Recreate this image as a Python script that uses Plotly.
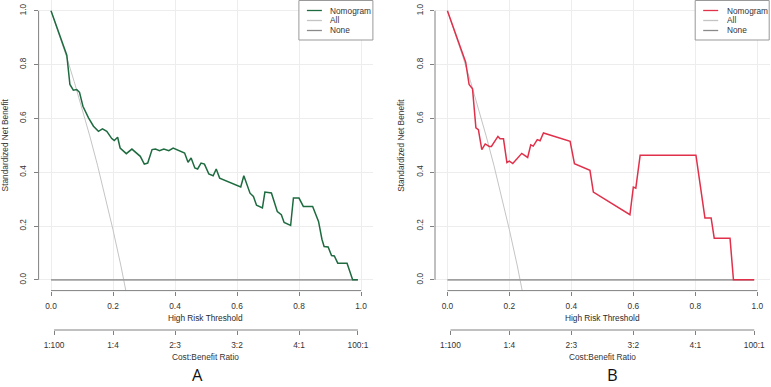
import plotly.graph_objects as go

# ---------------- data ----------------
thr_a = [0.0, 0.051, 0.061, 0.072, 0.083, 0.092, 0.103, 0.121, 0.137, 0.153, 0.166, 0.180, 0.196, 0.204,
         0.215, 0.223, 0.243, 0.261, 0.288, 0.301, 0.312, 0.326, 0.337, 0.350, 0.364, 0.380, 0.394, 0.407,
         0.431, 0.442, 0.452, 0.464, 0.473, 0.484, 0.495, 0.509, 0.523, 0.533, 0.544, 0.612, 0.622, 0.642,
         0.653, 0.663, 0.682, 0.690, 0.711, 0.730, 0.743, 0.752, 0.773, 0.782, 0.800, 0.814, 0.844, 0.863,
         0.874, 0.881, 0.894, 0.905, 0.914, 0.925, 0.955, 0.973, 0.990]
nb_a = [1.0, 0.835, 0.726, 0.705, 0.707, 0.697, 0.645, 0.602, 0.571, 0.552, 0.561, 0.552, 0.525, 0.518,
        0.530, 0.490, 0.469, 0.486, 0.459, 0.430, 0.434, 0.484, 0.486, 0.480, 0.486, 0.480, 0.490, 0.484,
        0.471, 0.437, 0.453, 0.416, 0.412, 0.434, 0.430, 0.394, 0.387, 0.412, 0.378, 0.345, 0.387, 0.322,
        0.310, 0.277, 0.267, 0.326, 0.323, 0.254, 0.242, 0.213, 0.202, 0.304, 0.304, 0.273, 0.273, 0.217,
        0.151, 0.124, 0.122, 0.090, 0.089, 0.062, 0.062, 0.0, 0.0]

thr_b = [0.0, 0.041, 0.059, 0.070, 0.081, 0.092, 0.100, 0.111, 0.122, 0.135, 0.142, 0.163, 0.170, 0.181,
         0.192, 0.200, 0.211, 0.240, 0.259, 0.269, 0.277, 0.290, 0.299, 0.310, 0.396, 0.410, 0.460, 0.471,
         0.589, 0.600, 0.608, 0.622, 0.802, 0.831, 0.851, 0.861, 0.912, 0.923, 0.990]
nb_b = [1.0, 0.862, 0.809, 0.726, 0.710, 0.565, 0.558, 0.484, 0.505, 0.496, 0.496, 0.533, 0.524, 0.524,
        0.436, 0.441, 0.432, 0.470, 0.455, 0.502, 0.497, 0.521, 0.517, 0.546, 0.515, 0.432, 0.407, 0.326,
        0.242, 0.345, 0.341, 0.463, 0.463, 0.230, 0.230, 0.155, 0.155, 0.0, 0.0]

all_thr = [0.0, 0.025, 0.05, 0.075, 0.10, 0.125, 0.15, 0.175, 0.20, 0.225, 0.25, 0.275]
all_nb_a = [1.0, 0.917, 0.829, 0.736, 0.638, 0.535, 0.426, 0.310, 0.186, 0.055, -0.085, -0.235]
all_nb_b = [1.0, 0.917, 0.829, 0.736, 0.638, 0.535, 0.426, 0.310, 0.186, 0.055, -0.085, -0.235]

none_thr = [0.0, 0.99]
none_nb = [0.0, 0.0]

x_ticks = [0.0, 0.2, 0.4, 0.6, 0.8, 1.0]
x_labels = ["0.0", "0.2", "0.4", "0.6", "0.8", "1.0"]
y_ticks = [0.0, 0.2, 0.4, 0.6, 0.8, 1.0]
y_labels = ["0.0", "0.2", "0.4", "0.6", "0.8", "1.0"]
cb_ticks = [1 / 101, 0.2, 0.4, 0.6, 0.8, 100 / 101]
cb_labels = ["1:100", "1:4", "2:3", "3:2", "4:1", "100:1"]

legend_names = ["Nomogram", "All", "None"]
panel_labels = ["A", "B"]

# ---------------- style ----------------
W, H = 771, 387
GREEN = "#1E6B40"
RED = "#E0304A"
ALL_COL = "#C4C4C4"
NONE_COL = "#A0A0A0"
AXIS_COL = "#808080"
TEXT_COL = "#333333"
GRID_COL = "#EDEDED"
FONT = "Liberation Sans, Arial, sans-serif"
FS = 8.3

def px_x(p):
    return p / W

def px_y(p):
    return 1 - p / H

dom_a = [px_x(38.6), px_x(373.4)]
dom_b = [px_x(435.0), px_x(769.7)]
ydom = [px_y(290.6), 1.0]
cb_pos = px_y(330)
panel_label_x = [197.5, 612.0]

fig = go.Figure()

def add_panel(idx, thr, nb, all_nb, color):
    xa = "x" if idx == 0 else "x2"
    ya = "y" if idx == 0 else "y2"
    fig.add_trace(go.Scatter(x=all_thr, y=all_nb, mode="lines", line=dict(color=ALL_COL, width=1),
                             xaxis=xa, yaxis=ya, showlegend=False, hoverinfo="skip"))
    fig.add_trace(go.Scatter(x=none_thr, y=none_nb, mode="lines", line=dict(color=NONE_COL, width=1.8),
                             xaxis=xa, yaxis=ya, showlegend=False, hoverinfo="skip"))
    fig.add_trace(go.Scatter(x=thr, y=nb, mode="lines", line=dict(color=color, width=1.5),
                             xaxis=xa, yaxis=ya, showlegend=False, name="Nomogram"))

add_panel(0, thr_a, nb_a, all_nb_a, GREEN)
add_panel(1, thr_b, nb_b, all_nb_b, RED)

# invisible traces to carry the cost:benefit axes
fig.add_trace(go.Scatter(x=cb_ticks, y=[None] * len(cb_ticks), xaxis="x3", yaxis="y",
                         showlegend=False, hoverinfo="skip", mode="lines", line=dict(color="rgba(0,0,0,0)")))
fig.add_trace(go.Scatter(x=cb_ticks, y=[None] * len(cb_ticks), xaxis="x4", yaxis="y2",
                         showlegend=False, hoverinfo="skip", mode="lines", line=dict(color="rgba(0,0,0,0)")))

xcommon = dict(range=[-0.04, 1.04], showline=False, zeroline=False, showgrid=True, gridcolor=GRID_COL,
               gridwidth=1, ticks="outside", ticklen=4, tickcolor=AXIS_COL, tickwidth=1,
               tickvals=x_ticks, ticktext=x_labels, tickfont=dict(family=FONT, size=FS, color=TEXT_COL),
               fixedrange=True, ticklabelstandoff=3)
ycommon = dict(range=[-0.04, 1.04], showline=False, zeroline=False, showgrid=True, gridcolor=GRID_COL,
               gridwidth=1, ticks="outside", ticklen=4, tickcolor=AXIS_COL, tickwidth=1,
               tickvals=y_ticks, ticktext=y_labels, tickangle=-90,
               tickfont=dict(family=FONT, size=FS, color=TEXT_COL), fixedrange=True, ticklabelstandoff=4)
cbcommon = dict(range=[-0.04, 1.04], showline=False, zeroline=False, showgrid=False,
                ticks="outside", ticklen=4, tickcolor=AXIS_COL, tickwidth=1, tickvals=cb_ticks,
                ticktext=cb_labels, tickfont=dict(family=FONT, size=FS, color=TEXT_COL),
                anchor="free", position=cb_pos, side="bottom", fixedrange=True, ticklabelstandoff=3)

fig.update_layout(
    width=W, height=H, margin=dict(l=0, r=0, t=0, b=0),
    paper_bgcolor="white", plot_bgcolor="white", showlegend=False,
    xaxis=dict(domain=dom_a, anchor="y", **xcommon),
    yaxis=dict(domain=ydom, anchor="x", **ycommon),
    xaxis2=dict(domain=dom_b, anchor="y2", **xcommon),
    yaxis2=dict(domain=ydom, anchor="x2", **ycommon),
    xaxis3=dict(domain=dom_a, overlaying="x", **cbcommon),
    xaxis4=dict(domain=dom_b, overlaying="x2", **cbcommon),
)

shapes = []
annots = []
panels = [("x", "y", dom_a, GREEN, 0), ("x2", "y2", dom_b, RED, 1)]
for xa, ya, dom, col, i in panels:
    # centre of the 0..1 threshold span in pixels
    x0px = dom[0] * W + (dom[1] - dom[0]) * W * 0.04 / 1.08
    x1px = dom[0] * W + (dom[1] - dom[0]) * W * 1.04 / 1.08
    mid = px_x((x0px + x1px) / 2)
    # axis lines (R style: spanning first to last tick)
    shapes.append(dict(type="line", xref=xa, yref="paper", x0=x_ticks[0], x1=x_ticks[-1],
                       y0=ydom[0], y1=ydom[0], line=dict(color=AXIS_COL, width=1)))
    shapes.append(dict(type="line", xref="paper", yref=ya, x0=dom[0], x1=dom[0],
                       y0=y_ticks[0], y1=y_ticks[-1], line=dict(color=AXIS_COL, width=1)))
    shapes.append(dict(type="line", xref=xa, yref="paper", x0=cb_ticks[0], x1=cb_ticks[-1],
                       y0=cb_pos, y1=cb_pos, line=dict(color=AXIS_COL, width=1)))
    # axis titles
    annots.append(dict(text="High Risk Threshold", xref="paper", yref="paper", x=mid, y=px_y(318),
                       showarrow=False, font=dict(family=FONT, size=FS, color="#2b2b2b"),
                       xanchor="center", yanchor="middle"))
    annots.append(dict(text="Cost:Benefit Ratio", xref="paper", yref="paper", x=mid, y=px_y(357),
                       showarrow=False, font=dict(family=FONT, size=FS, color=TEXT_COL),
                       xanchor="center", yanchor="middle"))
    annots.append(dict(text="Standardized Net Benefit", xref="paper", yref="paper",
                       x=px_x(dom[0] * W - 33.5), y=(ydom[0] + ydom[1]) / 2, textangle=-90,
                       showarrow=False, font=dict(family=FONT, size=FS, color=TEXT_COL),
                       xanchor="center", yanchor="middle"))
    # panel label
    annots.append(dict(text=panel_labels[i], xref="paper", yref="paper", x=px_x(panel_label_x[i]),
                       y=0.0, showarrow=False,
                       font=dict(family="Open Sans, Liberation Sans, sans-serif", size=16.5, color="#111111"),
                       xanchor="center", yanchor="bottom", borderpad=0))
    # legend box (top-right of plot region)
    right = dom[1] * W
    left = right - 74.5
    shapes.append(dict(type="rect", xref="paper", yref="paper", x0=px_x(left), x1=px_x(right - 0.5),
                       y0=px_y(40), y1=px_y(0.5), line=dict(color="#999999", width=1),
                       fillcolor="white", layer="above"))
    leg_cols = [col, ALL_COL, "#8a8a8a"]
    for k, name in enumerate(legend_names):
        yy = px_y(10.5 + 10 * k)
        shapes.append(dict(type="line", xref="paper", yref="paper", x0=px_x(left + 8), x1=px_x(left + 23),
                           y0=yy, y1=yy, line=dict(color=leg_cols[k], width=1.3), layer="above"))
        annots.append(dict(text=name, xref="paper", yref="paper", x=px_x(left + 29.5), y=yy,
                           showarrow=False, font=dict(family=FONT, size=FS, color=TEXT_COL),
                           xanchor="left", yanchor="middle"))

fig.update_layout(shapes=shapes, annotations=annots)
fig.write_html("out.html")
